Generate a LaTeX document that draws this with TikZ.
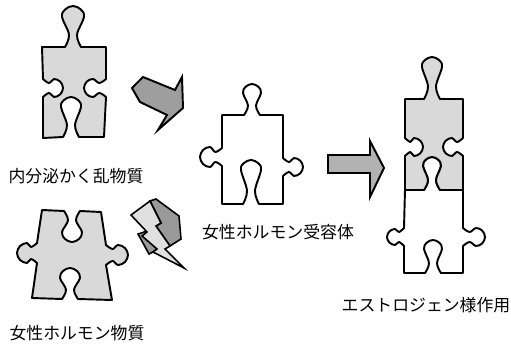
\documentclass[tikz,border=0pt]{standalone}
\usepackage{fontspec}
\newfontfamily\jpfont{Noto Sans CJK JP}
% one tab or slot of a puzzle piece: centre x, centre y, outward x, outward y, neck, bulb, height
\newcommand{\knob}[7]{-- plot[smooth,tension=0.6] coordinates {
    ({(#1)-(-(#5)-4)*(#4)},{(#2)+(-(#5)-4)*(#3)})
    ({(#1)+(#5)*(#4)+(0.3*(#7))*(#3)},{(#2)-(#5)*(#3)+(0.3*(#7))*(#4)})
    ({(#1)+abs(#6)*(#4)+((#7)-(#6))*(#3)},{(#2)-abs(#6)*(#3)+((#7)-(#6))*(#4)})
    ({(#1)+0.7*abs(#6)*(#4)+((#7)-0.3*(#6))*(#3)},{(#2)-0.7*abs(#6)*(#3)+((#7)-0.3*(#6))*(#4)})
    ({(#1)+(#7)*(#3)},{(#2)+(#7)*(#4)})
    ({(#1)-0.7*abs(#6)*(#4)+((#7)-0.3*(#6))*(#3)},{(#2)+0.7*abs(#6)*(#3)+((#7)-0.3*(#6))*(#4)})
    ({(#1)-abs(#6)*(#4)+((#7)-(#6))*(#3)},{(#2)+abs(#6)*(#3)+((#7)-(#6))*(#4)})
    ({(#1)-(#5)*(#4)+(0.3*(#7))*(#3)},{(#2)+(#5)*(#3)+(0.3*(#7))*(#4)})
    ({(#1)-((#5)+4)*(#4)},{(#2)+((#5)+4)*(#3)})
  }}

\begin{document}
\begin{tikzpicture}[x=0.02cm,y=-0.02cm,
    piece/.style={draw=black,line width=1.1pt,line join=round},
    blockarrow/.style={draw=black,line width=1.1pt,line join=miter},
    bolt/.style={draw=black,line width=0.9pt,line join=miter},
    lbl/.style={font=\jpfont\fontsize{9.6pt}{11pt}\selectfont,inner sep=0pt}]
  \useasboundingbox (0,0) rectangle (511,348);

  % disruptor piece (top left)
  \draw[piece,fill=black!15] (42,47) \knob{73}{47}{0}{-1}{4}{11}{41} -- (106,47)
    \knob{106}{88}{1}{0}{5}{-9}{-22} -- (104,137)
    \knob{71}{137}{0}{1}{4}{-10}{-40} -- (43,138)
    \knob{43}{88}{-1}{0}{5}{-9}{-20} -- cycle;
  \node[lbl] (disruptor) at (76,176) {内分泌かく乱物質};

  % hormone piece (bottom left)
  \draw[piece,fill=black!15] (42,210) \knob{72}{211}{0}{-1}{4}{-10}{-31} -- (101,212)
    \knob{106}{255}{1}{0}{6}{10}{22} -- (112,300)
    \knob{70}{299}{0}{1}{4}{-10}{-31} -- (32,298)
    \knob{37}{253}{-1}{0}{6}{10}{20} -- cycle;
  \node[lbl] (hormone) at (77,333) {女性ホルモン物質};

  % receptor piece
  \draw[piece,fill=white] (222,115) \knob{252}{115}{0}{-1}{4}{9}{31} -- (283,115)
    \knob{283}{167}{1}{0}{5}{9}{20} -- (283,204)
    \knob{251}{204}{0}{1}{4}{-10}{-44} -- (222,204)
    \knob{222}{157}{-1}{0}{5}{10}{22} -- cycle;
  \node[lbl] (receptor) at (278,232) {女性ホルモン受容体};

  % bound pair (right)
  \draw[piece,fill=white] (405,190) \knob{432}{190}{0}{-1}{4}{9}{33} -- (463,190)
    \knob{463}{237}{1}{0}{5}{9}{22} -- (463,273)
    \knob{433}{273}{0}{1}{4}{-9}{-33} -- (404,273)
    \knob{404}{237}{-1}{0}{5}{8}{17} -- cycle;
  \draw[piece,fill=black!15] (405,99) \knob{432}{99}{0}{-1}{4}{10}{42} -- (463,99)
    \knob{463}{147}{1}{0}{5}{-9}{-20} -- (463,190)
    \knob{432}{190}{0}{1}{4}{-9}{-33} -- (405,190)
    \knob{405}{147}{-1}{0}{5}{-9}{-18} -- cycle;
  \node[lbl] (estrogen) at (426,305) {エストロジェン様作用};

  % arrows
  \draw[blockarrow,fill=black!38] (143,77) -- (175,90) -- (182,77) -- (183,108)
    -- (158,130) -- (167,115) -- (140,102) -- (132,88) -- cycle;
  \draw[blockarrow,fill=black!30] (328,155) -- (370,155) -- (370,141) -- (384,168)
    -- (370,197) -- (370,173) -- (328,173) -- cycle;

  % lightning
  \draw[bolt,fill=black!40] (150,201) -- (156,199) -- (179,216) -- (181,239)
    -- (170,246) -- (156,226) -- (161,223) -- cycle;
  \draw[bolt,fill=black!40] (138,234) -- (147,231) -- (157,249) -- (153,252)
    -- (149,254) -- cycle;
  \draw[bolt,fill=black!12] (131,215) -- (150,201) -- (161,223) -- (156,226)
    -- (170,246) -- (165,249) -- (184,268) -- (153,252) -- (157,249)
    -- (142,236) -- (147,232) -- cycle;
\end{tikzpicture}
\end{document}
